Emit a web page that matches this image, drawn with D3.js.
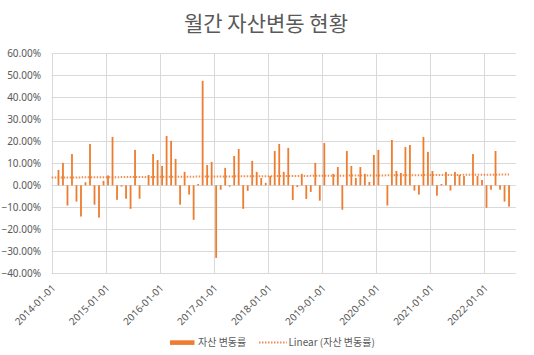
<!DOCTYPE html>
<html>
<head>
<meta charset="utf-8">
<script src="https://cdn.jsdelivr.net/npm/d3@7"></script>
<style>
  html, body { margin: 0; padding: 0; background: #fff; }
  svg { display: block; }
</style>
</head>
<body>
<svg id="chart" width="534" height="355"></svg>
<script>
// ---- data ----
const titleText = "월간 자산변동 현황";
const seriesName = "자산 변동률";
const trendName = "Linear (자산 변동률)";
const firstMonth = "2014-02";   // first data month
const axisStart = "2014-01";    // first month on axis
const axisEnd = "2022-07";      // last month slot on axis
const yTicks = [60, 50, 40, 30, 20, 10, 0, -10, -20, -30, -40];
const xTickLabels = ["2014-01-01","2015-01-01","2016-01-01","2017-01-01","2018-01-01",
                     "2019-01-01","2020-01-01","2021-01-01","2022-01-01"];
// monthly change rate (%), 2014-02 .. 2022-06
const values2014 = [7.0, 10.2, -9.2, 14.2, -7.4, -14.2, 1.4, 18.8, -8.8, -14.7, 2.0];
const values2015 = [4.5, 22.0, -6.6, -0.6, -6.1, -10.7, 16.1, -6.1, 0, 4.7, 14.2, 11.5];
const values2016 = [8.8, 22.4, 20.2, 12.0, -8.8, 6.1, -4.2, -15.7, 0.6, 47.5, 9.2, 10.6];
const values2017 = [-33.0, -2.0, 7.9, -0.6, 13.3, 16.5, -10.7, -2.5, 11.1, 6.1, 3.3, 1.1];
const values2018 = [4.2, 15.6, 18.8, 6.1, 17.0, -6.7, -0.8, 5.2, -6.2, -3.0, 10.2, -7.0];
const values2019 = [19.2, 0, 5.2, 8.3, -11.1, 15.6, 8.8, 3.3, 8.3, 5.2, 1.5, 13.8];
const values2020 = [16.1, 0, -9.2, 20.6, 6.5, 5.6, 17.4, 18.3, -2.4, -4.2, 22.0, 15.2];
const values2021 = [6.5, -4.7, 0.6, 6.1, -2.4, 6.1, 4.7, 4.2, 0, 14.2, 4.2, 2.4];
const values2022 = [-10.2, -2.0, 15.6, -2.0, -7.4, -9.7];

// ---- build ----
const values = [].concat(values2014, values2015, values2016, values2017, values2018,
                         values2019, values2020, values2021, values2022);
const parseM = d3.timeParse("%Y-%m");
const fmtM = d3.timeFormat("%Y-%m");
const axisMonths = d3.timeMonth.range(parseM(axisStart), d3.timeMonth.offset(parseM(axisEnd), 1)).map(fmtM);
const dataMonths = d3.timeMonth.range(parseM(firstMonth), d3.timeMonth.offset(parseM(firstMonth), values.length)).map(fmtM);
const data = dataMonths.map((m, i) => ({ month: m, value: values[i], idx: axisMonths.indexOf(m) }));

const svg = d3.select("#chart");
const plot = { left: 51.7, right: 515.8, top: 53.3, bottom: 273.3 };
const orange = "#ED7D31";
const grid = "#D9D9D9";
const textCol = "#595959";
const latin = "'Noto Sans', 'Noto Sans CJK KR', sans-serif";
const kor = "'Noto Sans CJK KR', 'Noto Sans', sans-serif";

const x = d3.scaleBand().domain(axisMonths).range([plot.left, plot.right])
  .paddingInner(0.6).paddingOuter(0.3);
const y = d3.scaleLinear().domain([-40, 60]).range([plot.bottom, plot.top]);
const slotStart = m => x(m) - (x.step() - x.bandwidth()) / 2;

// title
svg.append("text").attr("x", 266).attr("y", 31)
  .attr("text-anchor", "middle").attr("fill", textCol)
  .style("font-family", kor).style("font-size", "21px")
  .text(titleText);

// horizontal gridlines
svg.append("g").selectAll("line").data(yTicks).join("line")
  .attr("x1", plot.left).attr("x2", plot.right)
  .attr("y1", d => Math.round(y(d)) + 0.5).attr("y2", d => Math.round(y(d)) + 0.5)
  .attr("stroke", grid).attr("stroke-width", 1);

// vertical gridlines at each year
const yearMonths = xTickLabels.map(s => s.slice(0, 7));
svg.append("g").selectAll("line").data(yearMonths).join("line")
  .attr("x1", d => Math.round(slotStart(d)) + 0.5).attr("x2", d => Math.round(slotStart(d)) + 0.5)
  .attr("y1", plot.top).attr("y2", plot.bottom)
  .attr("stroke", grid).attr("stroke-width", 1);

// y labels
svg.append("g").selectAll("text").data(yTicks).join("text")
  .attr("x", 41).attr("y", d => y(d)).attr("dy", "0.35em")
  .attr("text-anchor", "end").attr("fill", textCol)
  .style("font-family", latin).style("font-size", "10px")
  .text(d => d3.format(".2f")(d) + "%");

// x labels (rotated)
svg.append("g").selectAll("text").data(xTickLabels).join("text")
  .attr("transform", d => `translate(${slotStart(d.slice(0, 7)) + 2},${plot.bottom + 13}) rotate(-45)`)
  .attr("text-anchor", "end").attr("dy", "0.35em").attr("fill", textCol)
  .style("font-family", latin).style("font-size", "10px")
  .text(d => d);

// bars
svg.append("g").selectAll("rect").data(data).join("rect")
  .attr("x", d => x(d.month))
  .attr("width", x.bandwidth())
  .attr("y", d => y(Math.max(0, d.value)))
  .attr("height", d => Math.abs(y(d.value) - y(0)))
  .attr("fill", orange);

// linear trendline (least squares on month index)
const n = data.length;
const mx = d3.mean(data, d => d.idx), my = d3.mean(data, d => d.value);
const slope = d3.sum(data, d => (d.idx - mx) * (d.value - my)) / d3.sum(data, d => (d.idx - mx) ** 2);
const icpt = my - slope * mx;
const cx = d => x(d) + x.bandwidth() / 2;
const lastIdx = data[n - 1].idx, firstIdx = data[0].idx;
const xStart = plot.left, xEnd = cx(data[n - 1].month);
const idxAt = px => (px - cx(data[0].month)) / x.step() + firstIdx;
svg.append("line")
  .attr("x1", xStart).attr("y1", y(icpt + slope * idxAt(xStart)))
  .attr("x2", xEnd).attr("y2", y(icpt + slope * lastIdx))
  .attr("stroke", orange).attr("stroke-width", 2)
  .attr("stroke-dasharray", "1.5,1.5").attr("opacity", 0.85);

// legend
const lg = svg.append("g");
lg.append("rect").attr("x", 170).attr("y", 340.3).attr("width", 24.5).attr("height", 4.6).attr("fill", orange);
lg.append("text").attr("x", 198).attr("y", 342.6).attr("dy", "0.35em").attr("fill", textCol)
  .style("font-family", kor).style("font-size", "10px").text(seriesName);
lg.append("line").attr("x1", 259).attr("x2", 286.7).attr("y1", 342.6).attr("y2", 342.6)
  .attr("stroke", orange).attr("stroke-width", 2).attr("stroke-dasharray", "1.5,1.5").attr("opacity", 0.85);
lg.append("text").attr("x", 288.4).attr("y", 342.6).attr("dy", "0.35em").attr("fill", textCol)
  .style("font-family", kor).style("font-size", "10px").text(trendName);
</script>
</body>
</html>
